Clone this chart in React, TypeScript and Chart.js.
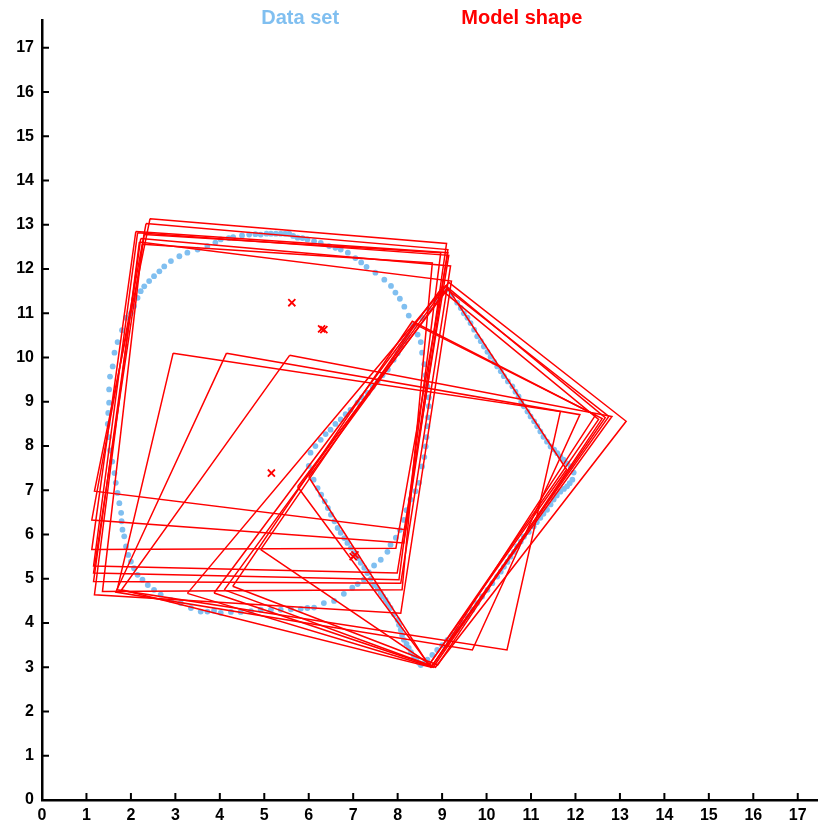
import React, { useEffect, useRef } from "react";
import { Chart, registerables } from "chart.js";

Chart.register(...registerables);

const LEGEND_LABELS = ["Data set", "Model shape"];
const DATA_COLOR = "#80bff0";
const MODEL_COLOR = "#ff0000";

// Data set: outline of the rounded blob
const blobPoints: [number, number][] = [
  [1.63, 10.11], [1.7, 10.35], [1.8, 10.62], [1.89, 10.9], [2.0, 11.0], [2.07, 11.16],
  [2.15, 11.35], [2.22, 11.5], [2.3, 11.61], [2.41, 11.73], [2.52, 11.84], [2.64, 11.95],
  [2.75, 12.06], [2.9, 12.18], [3.09, 12.29], [3.27, 12.37], [3.5, 12.44], [3.72, 12.52],
  [3.9, 12.6], [4.02, 12.67], [4.2, 12.7], [4.3, 12.72], [4.5, 12.76], [4.66, 12.78],
  [4.8, 12.79], [4.92, 12.78], [5.05, 12.8], [5.15, 12.8], [5.26, 12.8], [5.37, 12.8],
  [5.47, 12.8], [5.56, 12.8], [5.65, 12.75], [5.75, 12.71], [5.86, 12.7], [5.97, 12.67],
  [6.12, 12.63], [6.27, 12.59], [6.46, 12.52], [6.6, 12.48], [6.72, 12.44], [6.88, 12.37],
  [7.05, 12.25], [7.18, 12.15], [7.3, 12.05], [7.5, 11.92], [7.7, 11.76], [7.85, 11.62],
  [7.95, 11.47], [8.05, 11.33], [8.15, 11.15], [8.25, 10.95], [8.35, 10.72], [8.45, 10.52],
  [8.52, 10.35], [8.55, 10.11], [8.6, 9.85], [8.63, 9.6], [8.67, 9.35], [8.7, 9.1],
  [8.7, 8.9], [8.68, 8.65], [8.67, 8.45], [8.65, 8.2], [8.63, 7.99], [8.6, 7.75],
  [8.55, 7.54], [8.48, 7.17], [8.4, 6.98], [8.29, 6.79], [8.2, 6.55], [8.14, 6.33],
  [8.05, 6.1], [7.96, 5.93], [7.84, 5.77], [7.77, 5.61], [7.62, 5.43], [7.47, 5.3],
  [7.35, 5.15], [7.24, 4.98], [7.1, 4.88], [6.98, 4.8], [6.79, 4.66], [6.57, 4.5],
  [6.34, 4.45], [6.12, 4.35], [5.97, 4.34], [5.82, 4.32], [5.6, 4.31], [5.37, 4.3],
  [5.15, 4.3], [4.92, 4.3], [4.7, 4.27], [4.47, 4.25], [4.25, 4.25], [4.02, 4.23],
  [3.87, 4.28], [3.72, 4.26], [3.57, 4.26], [3.35, 4.34], [3.12, 4.45], [2.9, 4.52],
  [2.67, 4.64], [2.52, 4.75], [2.38, 4.86], [2.26, 4.98], [2.15, 5.09], [2.07, 5.24],
  [2.0, 5.39], [1.94, 5.54], [1.89, 5.73], [1.85, 5.96], [1.81, 6.11], [1.79, 6.3],
  [1.78, 6.49], [1.74, 6.71], [1.7, 6.94], [1.66, 7.17], [1.63, 7.39], [1.58, 7.65],
  [1.53, 7.9], [1.5, 8.2], [1.48, 8.5], [1.49, 8.75], [1.51, 8.98], [1.51, 9.28],
  [1.53, 9.57], [1.59, 9.8],
];

// Data set: outline of the tilted square on the right
const diamondPoints: [number, number][] = [
  [6.0, 7.55], [6.04, 7.85], [6.15, 8.0], [6.27, 8.14], [6.38, 8.27], [6.49, 8.37],
  [6.6, 8.5], [6.72, 8.6], [6.83, 8.72], [6.94, 8.82], [7.1, 8.98], [7.2, 9.1],
  [7.33, 9.2], [7.44, 9.34], [7.55, 9.46], [7.66, 9.6], [7.78, 9.73], [7.91, 9.95],
  [8.0, 10.1], [8.07, 10.25], [8.15, 10.37], [8.22, 10.48], [8.55, 10.9], [8.7, 11.1],
  [8.85, 11.3], [9.0, 11.5], [9.12, 11.54], [9.22, 11.4], [9.34, 11.24], [9.42, 11.12],
  [9.49, 11.0], [9.57, 10.9], [9.64, 10.78], [9.72, 10.63], [9.79, 10.48], [9.87, 10.37],
  [9.94, 10.25], [10.02, 10.13], [10.09, 10.02], [10.17, 9.9], [10.24, 9.8], [10.32, 9.69],
  [10.39, 9.58], [10.48, 9.46], [10.58, 9.35], [10.65, 9.23], [10.72, 9.12], [10.78, 9.0],
  [10.84, 8.9], [10.92, 8.78], [10.99, 8.67], [11.07, 8.56], [11.14, 8.45], [11.21, 8.33],
  [11.28, 8.21], [11.36, 8.1], [11.44, 7.99], [11.52, 7.92], [11.59, 7.84], [11.66, 7.76],
  [11.73, 7.69], [11.81, 7.61], [11.89, 7.54], [11.96, 7.4], [11.93, 7.24], [11.87, 7.16],
  [11.81, 7.09], [11.74, 7.03], [11.66, 6.97], [11.58, 6.88], [11.51, 6.79], [11.44, 6.68],
  [11.36, 6.56], [11.28, 6.47], [11.21, 6.38], [11.13, 6.28], [11.06, 6.18], [10.95, 6.06],
  [10.84, 5.95], [10.77, 5.84], [10.69, 5.73], [10.62, 5.61], [10.54, 5.5], [10.47, 5.38],
  [10.39, 5.27], [10.32, 5.16], [10.24, 5.05], [10.13, 4.9], [10.02, 4.75], [9.9, 4.6],
  [9.79, 4.45], [9.68, 4.3], [9.57, 4.15], [9.45, 4.0], [9.34, 3.85], [9.23, 3.73],
  [9.12, 3.62], [9.0, 3.5], [8.89, 3.39], [8.78, 3.28], [8.67, 3.17], [8.6, 3.1],
  [8.52, 3.05], [8.48, 3.1], [8.42, 3.17], [8.37, 3.24], [8.3, 3.34], [8.25, 3.44],
  [8.2, 3.53], [8.14, 3.62], [8.1, 3.73], [8.07, 3.85], [8.03, 3.96], [8.0, 4.07],
  [7.92, 4.2], [7.84, 4.34], [7.78, 4.43], [7.73, 4.52], [7.67, 4.6], [7.62, 4.68],
  [7.55, 4.77], [7.47, 4.86], [7.4, 5.0], [7.32, 5.13], [7.25, 5.25], [7.17, 5.36],
  [7.1, 5.47], [7.02, 5.58], [6.95, 5.7], [6.87, 5.81], [6.8, 5.92], [6.72, 6.04],
  [6.65, 6.15], [6.58, 6.3], [6.5, 6.45], [6.43, 6.6], [6.36, 6.75], [6.28, 6.9],
  [6.2, 7.05], [6.11, 7.24], [6.05, 7.4],
];

// Model shapes: quadrilateral corners
const modelShapes: [number, number][][] = [
  [[2.43, 13.14], [9.1, 12.58], [8.18, 6.11], [1.18, 6.98]],
  [[2.34, 13.03], [9.13, 12.44], [8.14, 5.81], [1.12, 6.33]],
  [[2.11, 12.85], [9.13, 12.37], [7.96, 5.69], [1.12, 5.66]],
  [[2.15, 12.82], [9.15, 12.31], [7.99, 5.13], [1.16, 5.29]],
  [[2.3, 12.78], [8.97, 12.37], [8.03, 4.98], [1.16, 5.13]],
  [[2.22, 12.69], [9.19, 12.07], [8.07, 4.9], [1.16, 4.94]],
  [[2.19, 12.61], [9.21, 11.73], [8.07, 4.22], [1.18, 4.64]],
  [[2.26, 12.56], [8.78, 12.14], [8.1, 4.75], [1.36, 4.71]],
  [[2.95, 10.1], [11.66, 8.78], [10.46, 3.39], [1.69, 4.75]],
  [[4.15, 10.1], [12.1, 8.71], [9.68, 3.39], [1.66, 4.7]],
  [[5.57, 10.05], [12.82, 8.67], [8.75, 3.0], [1.79, 4.75]],
  [[5.75, 7.08], [9.12, 11.54], [12.75, 8.67], [8.75, 3.0]],
  [[3.27, 4.67], [9.08, 11.62], [12.67, 8.64], [8.8, 3.0]],
  [[3.87, 4.68], [8.97, 11.54], [12.52, 8.6], [8.7, 3.05]],
  [[4.1, 4.75], [9.15, 11.7], [13.14, 8.56], [8.85, 3.0]],
  [[4.29, 4.83], [8.33, 10.82], [12.6, 8.62], [8.9, 3.05]],
  [[4.92, 5.66], [8.4, 10.75], [12.45, 8.7], [8.78, 3.03]],
  [[6.0, 7.3], [9.12, 11.58], [11.8, 7.47], [8.7, 3.05]],
];

// Centres of the model shapes (x markers)
const shapeCentres: [number, number][] = [
  [5.62, 11.24], [6.29, 10.65], [6.34, 10.63], [5.16, 7.39], [7.0, 5.5], [7.04, 5.54],
];

const X_MAX = 17.46;
const Y_MAX = 17.63;
const VIEW_W = 818;
const VIEW_H = 828;
const CANVAS_W = 825;

const toXY = (pts: [number, number][]) => pts.map(([x, y]) => ({ x, y }));

const legendPlugin = {
  id: "textLegend",
  afterDraw(chart: any) {
    const { ctx } = chart;
    ctx.save();
    ctx.font = "bold 20px 'Liberation Sans', Arial, sans-serif";
    ctx.textAlign = "center";
    ctx.textBaseline = "middle";
    ctx.fillStyle = DATA_COLOR;
    ctx.fillText(LEGEND_LABELS[0], VIEW_W * 0.367, 18);
    ctx.fillStyle = MODEL_COLOR;
    ctx.fillText(LEGEND_LABELS[1], VIEW_W * 0.638, 18);
    ctx.restore();
  },
};

const inwardTicks = {
  id: "inwardTicks",
  afterDraw(chart: any) {
    const { ctx, chartArea, scales } = chart;
    ctx.save();
    ctx.strokeStyle = "#000";
    ctx.lineWidth = 2;
    ctx.beginPath();
    scales.x.ticks.forEach((t: any) => {
      const px = scales.x.getPixelForValue(t.value);
      ctx.moveTo(px, chartArea.bottom);
      ctx.lineTo(px, chartArea.bottom - 7);
    });
    scales.y.ticks.forEach((t: any) => {
      const py = scales.y.getPixelForValue(t.value);
      ctx.moveTo(chartArea.left, py);
      ctx.lineTo(chartArea.left + 7, py);
    });
    ctx.stroke();
    ctx.restore();
  },
};

export default function App() {
  const ref = useRef<HTMLCanvasElement | null>(null);

  useEffect(() => {
    if (!ref.current) return;
    const datasets: any[] = [
      {
        label: LEGEND_LABELS[0],
        data: toXY([...blobPoints, ...diamondPoints]),
        showLine: false,
        pointRadius: 2.9,
        pointBorderWidth: 0,
        pointBackgroundColor: DATA_COLOR,
        backgroundColor: DATA_COLOR,
        order: 3,
      },
      ...modelShapes.map((poly, i) => ({
        label: i === 0 ? LEGEND_LABELS[1] : "",
        data: toXY([...poly, poly[0]]),
        showLine: true,
        fill: false,
        borderColor: MODEL_COLOR,
        borderWidth: 1.5,
        pointRadius: 0,
        order: 2,
      })),
      {
        label: "centres",
        data: toXY(shapeCentres),
        showLine: false,
        pointStyle: "crossRot",
        pointRadius: 5,
        borderColor: MODEL_COLOR,
        pointBorderColor: MODEL_COLOR,
        pointBorderWidth: 1.8,
        order: 1,
      },
    ];

    const tickFont = { family: "'Liberation Sans', Arial, sans-serif", size: 16, weight: "bold" as const };

    const chart = new Chart(ref.current, {
      type: "scatter",
      data: { datasets },
      options: {
        animation: false,
        responsive: false,
        maintainAspectRatio: false,
        layout: { padding: { top: 20, right: 0, left: 0, bottom: 0 } },
        plugins: { legend: { display: false }, tooltip: { enabled: false } },
        scales: {
          x: {
            type: "linear",
            min: 0,
            max: X_MAX,
            afterFit: (s: any) => { s.height = 28; },
            ticks: { stepSize: 1, includeBounds: false, color: "#000", font: tickFont, padding: 6, maxRotation: 0 },
            grid: { display: true, drawOnChartArea: false, drawTicks: false },
            border: { display: true, color: "#000", width: 2.5 },
          },
          y: {
            type: "linear",
            min: 0,
            max: Y_MAX,
            afterFit: (s: any) => { s.width = 42; },
            ticks: { stepSize: 1, includeBounds: false, color: "#000", font: tickFont, padding: 8 },
            grid: { display: true, drawOnChartArea: false, drawTicks: false },
            border: { display: true, color: "#000", width: 2.5 },
          },
        },
      },
      plugins: [legendPlugin, inwardTicks],
    });
    return () => chart.destroy();
  }, []);

  return (
    <div style={{ position: "fixed", left: 0, top: 0, width: VIEW_W, height: VIEW_H, overflow: "hidden", background: "#fff" }}>
      <canvas ref={ref} width={CANVAS_W} height={VIEW_H} style={{ width: CANVAS_W, height: VIEW_H, display: "block" }} />
    </div>
  );
}
